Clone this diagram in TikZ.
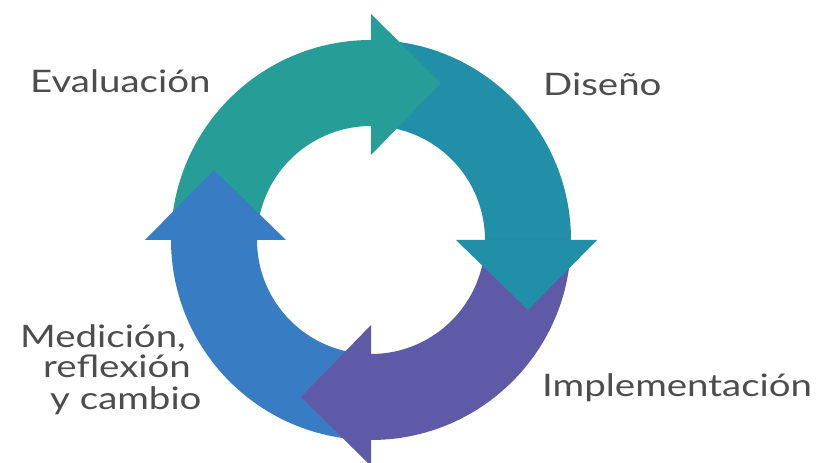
\documentclass[tikz,border=0pt]{standalone}
\usepackage{fontspec}
\setmainfont{Lato}
\definecolor{cTeal}{RGB}{38,157,150}
\definecolor{cTealBlue}{RGB}{33,143,168}
\definecolor{cPurple}{RGB}{95,90,168}
\definecolor{cBlue}{RGB}{56,124,196}
\definecolor{cText}{RGB}{77,77,77}
\newcommand{\wide}[1]{\scalebox{1.24}[1]{#1}}
\tikzset{
  lbl/.style={inner sep=0pt, anchor=base west, text=cText, font=\fontsize{31}{36}\selectfont},
}
\newcommand{\cycbody}[2]{%
  \begin{scope}[shift={(371,223)}, rotate=#1]
    \fill[#2] (180:200) arc[start angle=180, end angle=90, radius=200]
      -- (90:114) arc[start angle=90, end angle=180, radius=114] -- cycle;
  \end{scope}}
\newcommand{\cychead}[2]{%
  \begin{scope}[shift={(371,223)}, rotate=#1]
    \fill[#2] (0,85) -- (0,226) -- (70,157) -- cycle;
  \end{scope}}
\begin{document}
\begin{tikzpicture}[x=1pt,y=1pt]
\useasboundingbox (0,0) rectangle (822,463);
\fill[white] (0,0) rectangle (822,463);
\coordinate (C) at (371,223);
% bodies
\cycbody{0}{cTeal}
\cycbody{-90}{cTealBlue}
\cycbody{-180}{cPurple}
\cycbody{-270}{cBlue}
% heads
\cychead{0}{cTeal}
\cychead{-90}{cTealBlue}
\cychead{-180}{cPurple}
\cychead{-270}{cBlue}
% labels
\node[lbl] (eval) at (30,370) {\wide{Evaluación}};
\node[lbl] (dis) at (543,367) {\wide{Diseño}};
\node[lbl] (impl) at (542,66) {\wide{Implementación}};
\node[lbl] (med1) at (20,115) {\wide{Medición,}};
\node[lbl] (med2) at (43,85) {\wide{reflexión}};
\node[lbl] (med3) at (50,53) {\wide{y cambio}};
\end{tikzpicture}
\end{document}
